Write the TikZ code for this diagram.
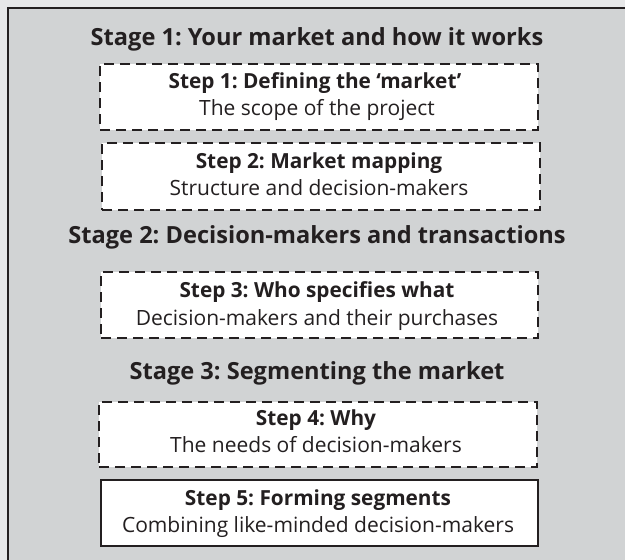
\documentclass[tikz,border=0pt]{standalone}
\usepackage{fontspec}
\setmainfont{Open Sans}
\frenchspacing
\definecolor{paper}{HTML}{E6E7E8}
\definecolor{panel}{HTML}{D1D3D4}
\definecolor{ink}{HTML}{231F20}
\tikzset{
  stagehead/.style={anchor=base, text=ink, inner sep=0pt,
    font=\fontsize{23.6}{28}\selectfont\bfseries},
  steptitle/.style={anchor=base, text=ink, inner sep=0pt,
    font=\fontsize{20.8}{24}\selectfont\bfseries},
  stepnote/.style={anchor=base, text=ink, inner sep=0pt,
    font=\fontsize{21}{24}\selectfont},
  stepbox/.style={fill=white, draw=ink, line width=1.3pt, inner sep=0pt},
  openbox/.style={stepbox, dash pattern=on 10pt off 6pt},
  donebox/.style={stepbox},
}
\begin{document}
\begin{tikzpicture}[x=1pt, y=-1pt]
  \useasboundingbox (0,0) rectangle (625,560);
  \fill[paper] (0,0) rectangle (625,560);
  \begin{scope}
    \clip (0,0) rectangle (625,560);
    \filldraw[fill=panel, draw=ink, line width=2.5pt] (8,8) rectangle (640,580);
  \end{scope}

  % stage headings
  \node[stagehead] (stage1) at (317,45) {Stage 1: Your market and how it works};
  \node[stagehead] (stage2) at (317,243) {Stage 2: Decision-makers and transactions};
  \node[stagehead] (stage3) at (317,379) {Stage 3: Segmenting the market};

  % step boxes
  \node[openbox, minimum width=438pt, minimum height=66pt] (box1) at (319,97) {};
  \node[openbox, minimum width=438pt, minimum height=67pt] (box2) at (321,176.5) {};
  \node[openbox, minimum width=437pt, minimum height=66pt] (box3) at (319.5,305) {};
  \node[openbox, minimum width=438pt, minimum height=65pt] (box4) at (318,434.5) {};
  \node[donebox, minimum width=437pt, minimum height=66pt] (box5) at (319.5,513) {};

  % step texts
  \node[steptitle] (t1) at (315,88) {Step 1: Defining the `market'};
  \node[stepnote]  (n1) at (317,115) {The scope of the project};
  \node[steptitle] (t2) at (319,168) {Step 2: Market mapping};
  \node[stepnote]  (n2) at (319,195) {Structure and decision-makers};
  \node[steptitle] (t3) at (317,297) {Step 3: Who specifies what};
  \node[stepnote]  (n3) at (317,325) {Decision-makers and their purchases};
  \node[steptitle] (t4) at (316,425) {Step 4: Why};
  \node[stepnote]  (n4) at (316,452) {The needs of decision-makers};
  \node[steptitle] (t5) at (318,505) {Step 5: Forming segments};
  \node[stepnote]  (n5) at (318,532) {Combining like-minded decision-makers};
\end{tikzpicture}
\end{document}
